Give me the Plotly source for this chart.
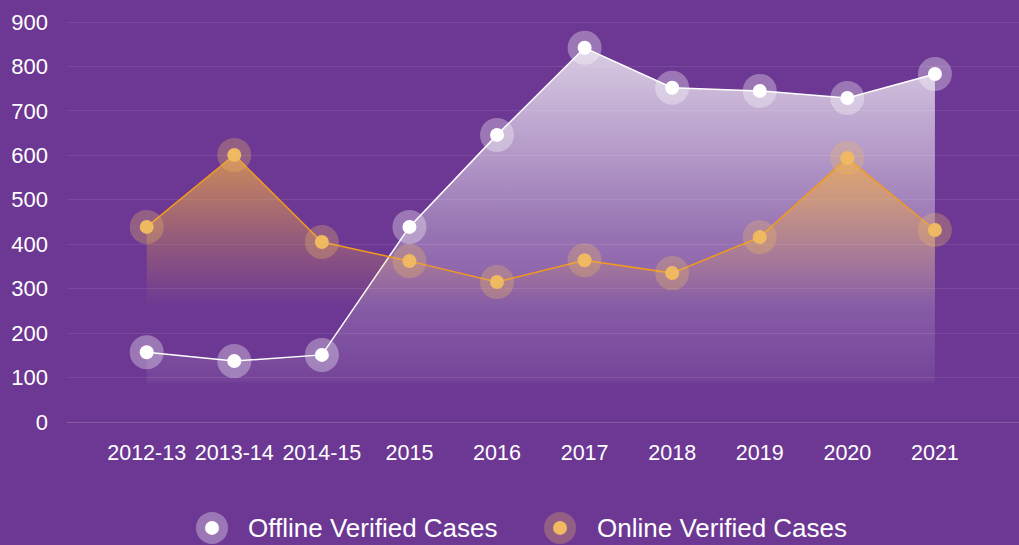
import plotly.graph_objects as go

# Data
years = ["2012-13", "2013-14", "2014-15", "2015", "2016", "2017", "2018", "2019", "2020", "2021"]
offline_cases = [157, 137, 151, 439, 646, 842, 752, 745, 729, 783]
online_cases = [439, 601, 405, 362, 315, 364, 335, 416, 594, 432]
series_names = ["Offline Verified Cases", "Online Verified Cases"]

BG = "#6c3893"
ORANGE_DOT = "#f0b962"
ORANGE_LINE = "#f39a1b"
WHITE_HALO = "rgba(255,255,255,0.32)"
ORANGE_HALO = "rgba(240,185,98,0.3)"

fig = go.Figure()

# Offline series: gradient fill, white line, white dot with soft halo
fig.add_trace(
    go.Scatter(
        x=years,
        y=offline_cases,
        name=series_names[0],
        mode="lines+markers",
        fill="tozeroy",
        fillgradient=dict(
            type="vertical",
            start=0,
            stop=850,
            colorscale=[
                [0.0, "rgba(255,255,255,0)"],
                [0.1, "rgba(255,255,255,0)"],
                [0.11, "rgba(255,255,255,0.06)"],
                [0.5, "rgba(255,255,255,0.3)"],
                [1.0, "rgba(255,255,255,0.75)"],
            ],
        ),
        line=dict(color="white", width=1.5),
        marker=dict(size=14, color="white", line=dict(color=WHITE_HALO, width=20)),
    )
)

# Online series: orange gradient fill, orange line, orange dot with halo
fig.add_trace(
    go.Scatter(
        x=years,
        y=online_cases,
        name=series_names[1],
        mode="lines+markers",
        fill="tozeroy",
        fillgradient=dict(
            type="vertical",
            start=260,
            stop=610,
            colorscale=[
                [0.0, "rgba(240,170,70,0)"],
                [0.4, "rgba(240,170,70,0.28)"],
                [1.0, "rgba(240,170,70,0.75)"],
            ],
        ),
        line=dict(color=ORANGE_LINE, width=1.5),
        marker=dict(size=14, color=ORANGE_DOT, line=dict(color=ORANGE_HALO, width=20)),
    )
)

# Custom legend (halo + dot icons with text), placed below the plot
legend_items = [
    (0.1523, 0.1875, "white", WHITE_HALO, series_names[0]),
    (0.5179, 0.555, ORANGE_DOT, ORANGE_HALO, series_names[1]),
]
legend_y = -0.251
shapes = []
annotations = []
for icon_x, text_x, dot, halo, label in legend_items:
    for r, col in ((16, halo), (7, dot)):
        shapes.append(
            dict(
                type="circle",
                xref="paper", yref="paper",
                xsizemode="pixel", ysizemode="pixel",
                xanchor=icon_x, yanchor=legend_y,
                x0=-r, x1=r, y0=-r, y1=r,
                fillcolor=col,
                line=dict(width=0),
            )
        )
    annotations.append(
        dict(
            text=label,
            xref="paper", yref="paper",
            x=text_x, y=legend_y,
            xanchor="left", yanchor="middle",
            showarrow=False,
            font=dict(size=26, color="white"),
        )
    )

fig.update_layout(
    width=1019,
    height=545,
    paper_bgcolor=BG,
    plot_bgcolor=BG,
    margin=dict(l=67, r=0, t=0, b=123),
    font=dict(family="Liberation Sans, Arial, sans-serif", color="white", size=18),
    showlegend=False,
    shapes=shapes,
    annotations=annotations,
)

fig.update_xaxes(
    type="category",
    range=[-0.91, 9.96],
    showgrid=False,
    zeroline=False,
    showline=False,
    ticks="",
    ticklabelstandoff=15,
    automargin=False,
    tickfont=dict(size=21.5, color="white"),
)
fig.update_yaxes(
    range=[0, 949.5],
    dtick=100,
    showgrid=True,
    gridcolor="rgba(255,255,255,0.09)",
    gridwidth=1,
    zeroline=True,
    zerolinecolor="rgba(255,255,255,0.18)",
    zerolinewidth=1,
    ticks="",
    ticklabelstandoff=18,
    automargin=False,
    tickfont=dict(size=22, color="white"),
)

fig.write_html(
    "out.html",
    config={"displayModeBar": False},
    post_script="document.body.style.margin='0';",
)
